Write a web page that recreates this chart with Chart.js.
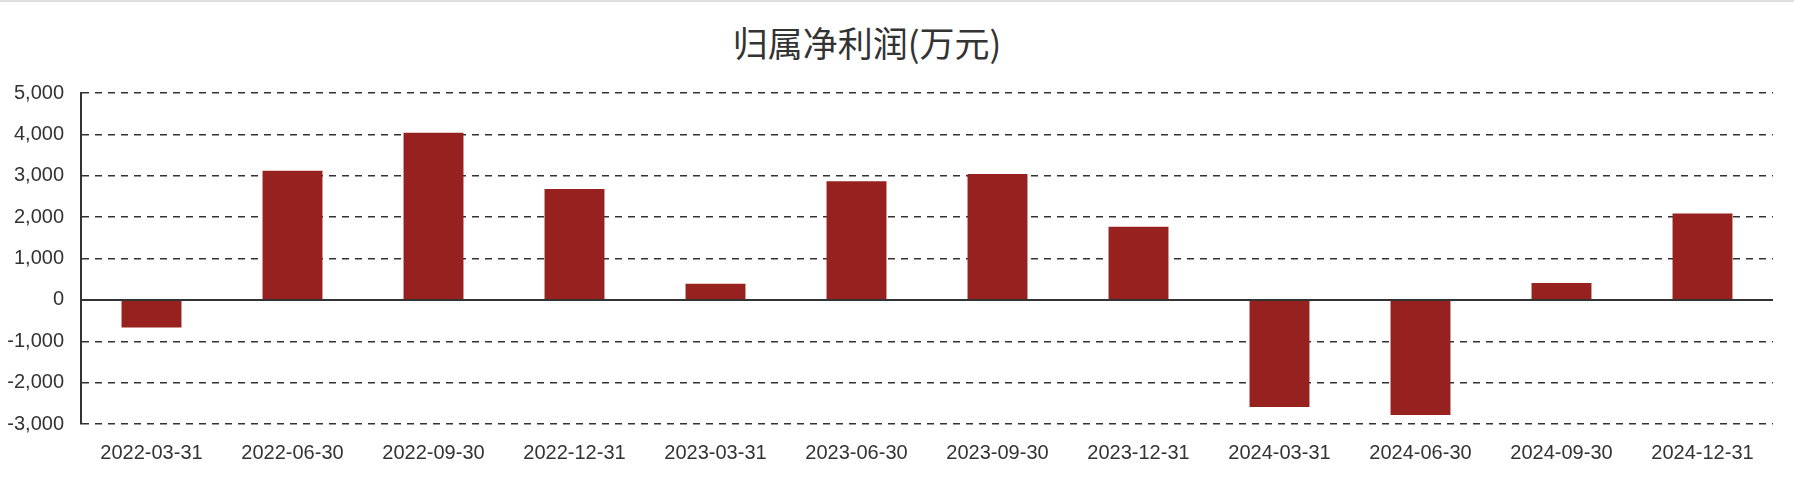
<!DOCTYPE html>
<html>
<head>
<meta charset="utf-8">
<script src="https://cdn.jsdelivr.net/npm/chart.js@4/dist/chart.umd.min.js"></script>
<style>
    html, body { margin: 0; padding: 0; background: #fff; }
    #wrap { position: relative; width: 1794px; height: 496px; border-top: 2px solid #e0e0e0; box-sizing: border-box; }
    #title {
        position: absolute; top: 17px; left: 567px; width: 600px;
        text-align: center; font: 35px "Noto Sans CJK SC", sans-serif; color: #333;
        line-height: 46px;
    }
    canvas { position: absolute; top: 0; left: 0; }
</style>
</head>
<body>
<div id="wrap">
    <div id="title">归属净利润(万元)</div>
    <canvas id="profit" width="1794" height="494"></canvas>
</div>
<script>
'use strict';

// report dates and net profit attributable (万元)
const dates = ['2022-03-31', '2022-06-30', '2022-09-30', '2022-12-31', '2023-03-31', '2023-06-30',
    '2023-09-30', '2023-12-31', '2024-03-31', '2024-06-30', '2024-09-30', '2024-12-31'];
const netProfit = [-665, 3120, 4040, 2680, 390, 2870, 3040, 1770, -2590, -2780, 410, 2090];
const yTicks = [-3000, -2000, -1000, 0, 1000, 2000, 3000, 4000, 5000];

(() => {
    const textColor = '#333';
    const font = { family: '"Liberation Sans", Arial, sans-serif', size: 20 };

    new Chart(document.querySelector('canvas#profit'), {
        type: 'bar',
        data: {
            labels: dates,
            datasets: [{
                label: '归属净利润',
                data: netProfit,
                backgroundColor: '#96211f',
                borderWidth: 0,
                categoryPercentage: 1,
                barPercentage: 0.425
            }]
        },
        options: {
            responsive: false,
            animation: false,
            layout: {
                padding: { top: 91, right: 21, bottom: 14, left: 0 }
            },
            plugins: {
                legend: { display: false },
                title: { display: false },
                tooltip: { enabled: false }
            },
            scales: {
                x: {
                    grid: { display: false, drawTicks: false },
                    border: { display: false },
                    ticks: { color: textColor, font: font, padding: 17, maxRotation: 0 }
                },
                y: {
                    min: yTicks[0],
                    max: yTicks[yTicks.length - 1],
                    afterFit: (scale) => { scale.width = 81; },
                    afterBuildTicks: (scale) => { scale.ticks = yTicks.map(v => ({ value: v })); },
                    grid: {
                        drawTicks: false,
                        color: '#333',
                        lineWidth: (ctx) => (ctx.tick && ctx.tick.value === 0 ? 2 : 1.5)
                    },
                    border: {
                        display: true,
                        color: '#333',
                        width: 2,
                        dash: (ctx) => (ctx.tick && ctx.tick.value !== 0 ? [7, 6] : [])
                    },
                    ticks: {
                        color: textColor,
                        font: font,
                        padding: 17,
                        callback: (value) => value.toLocaleString('en-US')
                    }
                }
            }
        }
    });
})();
</script>
</body>
</html>
